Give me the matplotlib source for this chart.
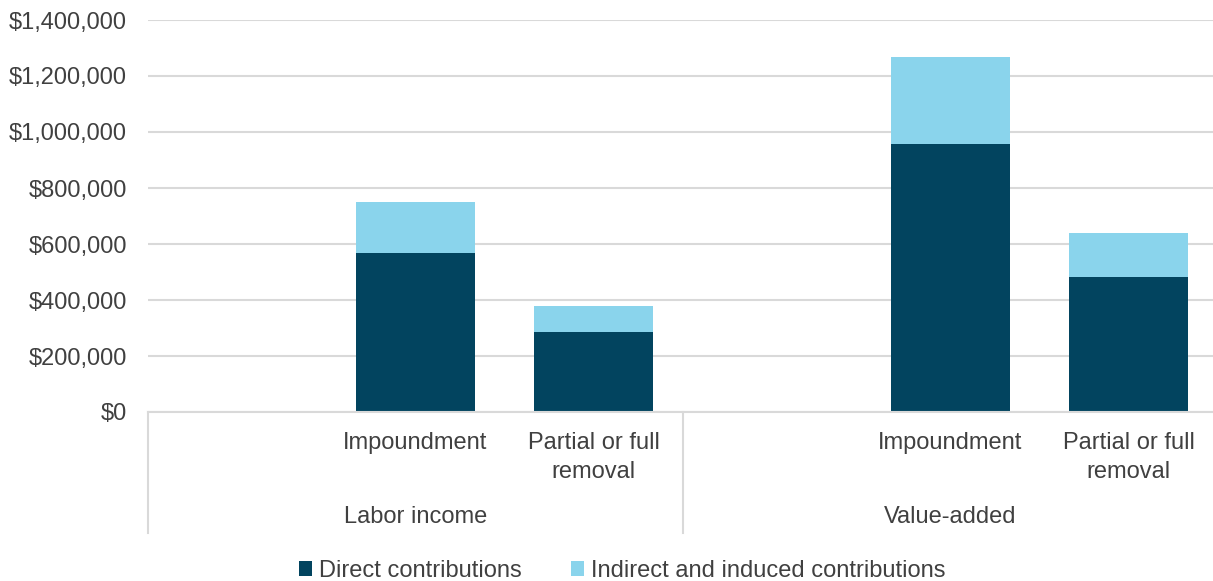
import matplotlib.pyplot as plt
import matplotlib.transforms as mtransforms
from matplotlib.ticker import FuncFormatter

plt.rcParams["font.family"] = ["Liberation Sans", "DejaVu Sans"]

# data
groups = ["Labor income", "Value-added"]
scenarios = ["", "Impoundment", "Partial or full\nremoval"]
direct = [568000, 286000, 957000, 482000]
indirect = [183000, 93000, 311000, 157000]
series_names = ["Direct contributions", "Indirect and induced contributions"]

dark = "#02445F"
light = "#8AD4EC"
text_color = "#404040"
grid_color = "#D9D9D9"

# slot positions: each group has an empty slot then two bars
positions = [1, 2, 4, 5]

fig = plt.figure(figsize=(12.13, 5.81), dpi=100)
ax = fig.add_axes([148 / 1213, 169 / 581, (1213 - 148) / 1213, 392 / 581])

ax.bar(positions, direct, width=0.667, color=dark, label=series_names[0], zorder=3)
ax.bar(positions, indirect, width=0.667, bottom=direct, color=light,
       label=series_names[1], zorder=3)

ax.set_ylim(0, 1400000)
ax.set_xlim(-0.5, -0.5 + (1213 - 148) / 178.3)
ax.set_yticks(range(0, 1400001, 200000))
ax.yaxis.set_major_formatter(FuncFormatter(lambda v, p: "${:,.0f}".format(v)))
ax.tick_params(axis="y", length=0, pad=15, labelsize=17, labelcolor=text_color)
ax.set_xticks([])
ax.grid(axis="y", color=grid_color, linewidth=1.5, zorder=0)
for s in ["top", "right", "left"]:
    ax.spines[s].set_visible(False)
ax.spines["bottom"].set_color(grid_color)
ax.spines["bottom"].set_linewidth(1.5)
ax.spines["bottom"].set_zorder(4)

# multi-level category axis
trans = mtransforms.blended_transform_factory(ax.transData, ax.transAxes)
for gi, g in enumerate(groups):
    for si, s in enumerate(scenarios):
        if s:
            ax.text(gi * 3 + si, -0.05, s, transform=trans, ha="center", va="top",
                    fontsize=17, color=text_color, linespacing=1.45)
    ax.text(gi * 3 + 1, -0.24, g, transform=trans, ha="center", va="top",
            fontsize=17, color=text_color)
for xs in [-0.5, 2.5, 5.5]:
    ax.plot([xs, xs], [0, -0.309], transform=trans, color=grid_color,
            linewidth=1.5, clip_on=False)

fig.legend(loc="lower center", bbox_to_anchor=(0.513, -0.038), ncol=2, frameon=False,
           fontsize=17, labelcolor=text_color, handlelength=0.55, handleheight=0.55,
           handletextpad=0.3, columnspacing=2.1)

fig.savefig("out.png", dpi=100)
